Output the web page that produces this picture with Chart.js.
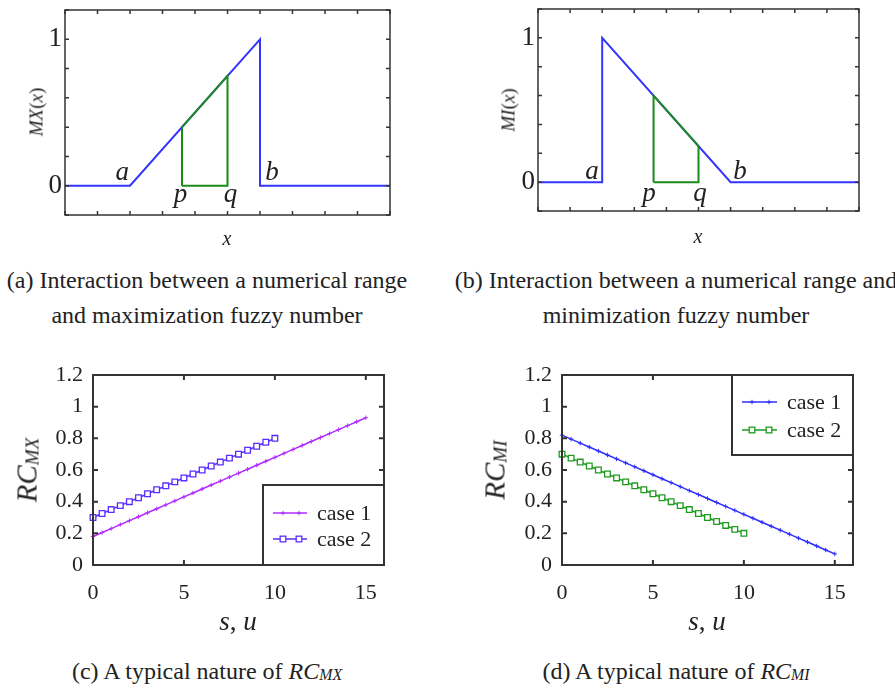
<!DOCTYPE html>
<html><head><meta charset="utf-8">
<script src="https://cdn.jsdelivr.net/npm/chart.js@4.4.0/dist/chart.umd.min.js"></script>
<style>
html,body{margin:0;padding:0;background:#fff}
#page{position:relative;width:895px;height:688px;overflow:hidden;background:#fff;font-family:"Liberation Serif","Times New Roman",serif;color:#222}
canvas{position:absolute}
.t{position:absolute;white-space:nowrap;line-height:1}
.cap{position:absolute;white-space:nowrap;text-align:center;width:520px;font-size:24px;line-height:35px}
.rot{transform:translate(-50%,-50%) rotate(-90deg)}
.ctr{transform:translate(-50%,-50%)}
.sub{font-size:0.66em;vertical-align:-0.08em}
</style></head>
<body>
<div id="page">
  <canvas id="cA" width="447" height="250" style="left:0;top:0"></canvas>
  <canvas id="cB" width="448" height="250" style="left:447px;top:0"></canvas>
  <canvas id="cC" width="447" height="300" style="left:0;top:340px"></canvas>
  <canvas id="cD" width="448" height="300" style="left:447px;top:340px"></canvas>

  <div class="t rot" style="left:36px;top:112px;font-size:19px"><i>MX</i>(<i>x</i>)</div>
  <div class="t ctr" style="left:227px;top:238px;font-size:20px"><i>x</i></div>
  <div class="t rot" style="left:508px;top:110px;font-size:19px"><i>MI</i>(<i>x</i>)</div>
  <div class="t ctr" style="left:698px;top:236px;font-size:20px"><i>x</i></div>

  <div class="t rot" style="left:27px;top:470px;font-size:29px"><i>RC<span class="sub">MX</span></i></div>
  <div class="t ctr" style="left:238px;top:621px;font-size:27px"><i>s</i>, <i>u</i></div>
  <div class="t rot" style="left:495px;top:470px;font-size:29px"><i>RC<span class="sub">MI</span></i></div>
  <div class="t ctr" style="left:707px;top:621px;font-size:27px"><i>s</i>, <i>u</i></div>

  <div class="cap" style="left:-53px;top:263px">(a) Interaction between a numerical range<br>and maximization fuzzy number</div>
  <div class="cap" style="left:416px;top:263px">(b) Interaction between a numerical range and<br>minimization fuzzy number</div>
  <div class="cap" style="left:-53px;top:654px">(c) A typical nature of <i>RC<span class="sub">MX</span></i></div>
  <div class="cap" style="left:416px;top:654px">(d) A typical nature of <i>RC<span class="sub">MI</span></i></div>
</div>
<script>
// ---------------- data ----------------
// (a) maximization fuzzy number MX(x)
const mxX = [0, 2, 6, 6, 10];
const mxY = [0, 0, 1, 0, 0];
const mxRangeX = [3.6, 3.6, 5, 5, 3.6];
const mxRangeY = [0, 0.4, 0.75, 0, 0];
// (b) minimization fuzzy number MI(x)
const miX = [0, 2, 2, 6, 10];
const miY = [0, 0, 1, 0, 0];
const miRangeX = [3.6, 3.6, 5, 5, 3.6];
const miRangeY = [0, 0.6, 0.25, 0, 0];
// point names and where they sit (data units)
const markNames = ['a', 'b', 'p', 'q'];
const mxMarkX = [1.76, 6.37, 3.55, 5.09];
const mxMarkY = [0.04, 0.04, -0.11, -0.11];
const miMarkX = [1.68, 6.29, 3.46, 5.05];
const miMarkY = [0.02, 0.02, -0.13, -0.13];
// fuzzy y tick labels
const fuzzyTickValues = [0, 1];
const fuzzyTickLabels = ['0', '1'];
// (c),(d) s,u values
const su15 = [0,0.5,1,1.5,2,2.5,3,3.5,4,4.5,5,5.5,6,6.5,7,7.5,8,8.5,9,9.5,10,10.5,11,11.5,12,12.5,13,13.5,14,14.5,15];
const su10 = [0,0.5,1,1.5,2,2.5,3,3.5,4,4.5,5,5.5,6,6.5,7,7.5,8,8.5,9,9.5,10];
const rcmxCase1 = [0.18,0.205,0.23,0.255,0.28,0.305,0.33,0.355,0.38,0.405,0.43,0.455,0.48,0.505,0.53,0.555,0.58,0.605,0.63,0.655,0.68,0.705,0.73,0.755,0.78,0.805,0.83,0.855,0.88,0.905,0.93];
const rcmxCase2 = [0.3,0.325,0.35,0.375,0.4,0.425,0.45,0.475,0.5,0.525,0.55,0.575,0.6,0.625,0.65,0.675,0.7,0.725,0.75,0.775,0.8];
const rcmiCase1 = [0.82,0.795,0.77,0.745,0.72,0.695,0.67,0.645,0.62,0.595,0.57,0.545,0.52,0.495,0.47,0.445,0.42,0.395,0.37,0.345,0.32,0.295,0.27,0.245,0.22,0.195,0.17,0.145,0.12,0.095,0.07];
const rcmiCase2 = [0.7,0.675,0.65,0.625,0.6,0.575,0.55,0.525,0.5,0.475,0.45,0.425,0.4,0.375,0.35,0.325,0.3,0.275,0.25,0.225,0.2];
const caseLabels = ['case 1', 'case 2'];

// ---------------- helpers ----------------
const FONT = '"Liberation Serif","Times New Roman",serif';
const TXT = '#222';
const pts = (xs, ys) => xs.map((x, i) => ({x: x, y: ys[i]}));
const near = (a, b) => Math.abs(a - b) < 1e-9;

const framePlugin = {
  id: 'frame',
  afterDatasetsDraw(chart, args, o) {
    const ctx = chart.ctx, a = chart.chartArea, xs = chart.scales.x, ys = chart.scales.y;
    ctx.save();
    ctx.strokeStyle = o.color; ctx.lineWidth = o.width; ctx.lineCap = 'butt';
    ctx.beginPath();
    xs.ticks.forEach(t => {
      const p = xs.getPixelForValue(t.value);
      ctx.moveTo(p, a.bottom); ctx.lineTo(p, a.bottom - o.tick);
      ctx.moveTo(p, a.top); ctx.lineTo(p, a.top + o.tick);
    });
    ys.ticks.forEach(t => {
      const p = ys.getPixelForValue(t.value);
      ctx.moveTo(a.left, p); ctx.lineTo(a.left + o.tick, p);
      ctx.moveTo(a.right, p); ctx.lineTo(a.right - o.tick, p);
    });
    ctx.stroke();
    ctx.strokeRect(a.left, a.top, a.right - a.left, a.bottom - a.top);
    // legend box
    if (o.legend) {
      const L = o.legend;
      const bx = a.right - L.w;
      const by = L.corner === 'br' ? a.bottom - L.h : a.top;
      ctx.fillStyle = '#fff';
      ctx.fillRect(bx, by, L.w, L.h);
      ctx.strokeRect(bx, by, L.w, L.h);
      chart.data.datasets.forEach((ds, i) => {
        const yy = by + L.rows[i];
        ctx.strokeStyle = ds.borderColor; ctx.lineWidth = ds.borderWidth;
        ctx.beginPath(); ctx.moveTo(bx + L.x0, yy); ctx.lineTo(bx + L.x1, yy); ctx.stroke();
        L.marks.forEach(mx => drawMark(ctx, ds, bx + mx, yy));
        ctx.fillStyle = TXT;
        ctx.font = L.font + 'px ' + FONT;
        ctx.textBaseline = 'middle'; ctx.textAlign = 'left';
        ctx.fillText(ds.label, bx + L.tx, yy + 1);
      });
    }
    ctx.restore();
  }
};
function drawMark(ctx, ds, x, y) {
  const r = ds.pointRadius;
  ctx.save();
  ctx.strokeStyle = ds.borderColor; ctx.lineWidth = ds.pointBorderWidth || 1;
  if (ds.pointStyle === 'rect') {
    const s = r * Math.SQRT1_2;
    ctx.fillStyle = ds.pointBackgroundColor || '#fff';
    ctx.fillRect(x - s, y - s, 2 * s, 2 * s);
    ctx.strokeRect(x - s, y - s, 2 * s, 2 * s);
  } else {
    ctx.beginPath();
    ctx.moveTo(x - r, y); ctx.lineTo(x + r, y);
    ctx.moveTo(x, y - r); ctx.lineTo(x, y + r);
    ctx.stroke();
  }
  ctx.restore();
}

const markPlugin = {
  id: 'marks',
  afterDatasetsDraw(chart, args, o) {
    if (!o.names) return;
    const ctx = chart.ctx, xs = chart.scales.x, ys = chart.scales.y;
    ctx.save();
    ctx.fillStyle = TXT;
    ctx.font = 'italic ' + o.size + 'px ' + FONT;
    ctx.textAlign = 'center'; ctx.textBaseline = 'alphabetic';
    o.names.forEach((n, i) => ctx.fillText(n, xs.getPixelForValue(o.xs[i]), ys.getPixelForValue(o.ys[i])));
    ctx.restore();
  }
};

function makeChart(id, datasets, s) {
  return new Chart(document.getElementById(id), {
    type: 'scatter',
    data: {datasets: datasets},
    options: {
      responsive: false, animation: false, devicePixelRatio: 1,
      layout: {padding: {top: s.pt, right: s.pr, left: 0, bottom: 0}},
      plugins: {
        legend: {display: false}, tooltip: {enabled: false},
        frame: {color: '#333', width: s.fw, tick: s.tick, legend: s.legend},
        marks: s.marks || {}
      },
      scales: {
        x: {
          type: 'linear', min: s.xmin, max: s.xmax,
          grid: {display: false, drawTicks: false}, border: {display: false},
          ticks: {stepSize: s.xstep, includeBounds: false, autoSkip: false, maxRotation: 0,
                  padding: s.xpad, color: TXT, font: {family: FONT, size: s.fs},
                  callback: s.xcb || (v => String(v))},
          afterFit: sc => { sc.height = s.xh; sc.paddingLeft = 0; sc.paddingRight = 0; }
        },
        y: {
          type: 'linear', min: s.ymin, max: s.ymax,
          grid: {display: false, drawTicks: false}, border: {display: false},
          ticks: {stepSize: 0.2, includeBounds: false, autoSkip: false,
                  padding: s.ypad, color: TXT, font: {family: FONT, size: s.fs},
                  callback: s.ycb},
          afterFit: sc => { sc.width = s.yw; sc.paddingTop = 0; sc.paddingBottom = 0; }
        }
      }
    },
    plugins: [framePlugin, markPlugin]
  });
}

const fuzzyYcb = v => { const k = fuzzyTickValues.findIndex(t => near(t, v)); return k >= 0 ? fuzzyTickLabels[k] : ''; };
const rcYcb = v => near(v, 0) ? '0' : near(v, 1) ? '1' : (Math.round(v * 10) / 10).toFixed(1);

// (a)
makeChart('cA', [
  {label: 'range', data: pts(mxRangeX, mxRangeY), showLine: true, borderColor: '#1b8a1b', borderWidth: 2, pointRadius: 0, order: 0},
  {label: 'MX', data: pts(mxX, mxY), showLine: true, borderColor: '#3434ff', borderWidth: 2, pointRadius: 0, order: 1}
], {pt: 10, pr: 57, xh: 35, yw: 65, xmin: 0, xmax: 10, xstep: 1, ymin: -0.2, ymax: 1.2, fs: 27,
    xpad: 4, ypad: 3, xcb: () => '', ycb: fuzzyYcb, fw: 1.5, tick: 4,
    marks: {names: markNames, xs: mxMarkX, ys: mxMarkY, size: 27}});

// (b)
makeChart('cB', [
  {label: 'range', data: pts(miRangeX, miRangeY), showLine: true, borderColor: '#1b8a1b', borderWidth: 2, pointRadius: 0, order: 0},
  {label: 'MI', data: pts(miX, miY), showLine: true, borderColor: '#3434ff', borderWidth: 2, pointRadius: 0, order: 1}
], {pt: 9, pr: 36, xh: 39, yw: 91, xmin: 0, xmax: 10, xstep: 1, ymin: -0.2, ymax: 1.2, fs: 27,
    xpad: 4, ypad: 3, xcb: () => '', ycb: fuzzyYcb, fw: 1.5, tick: 4,
    marks: {names: markNames, xs: miMarkX, ys: miMarkY, size: 27}});

// (c)
makeChart('cC', [
  {label: caseLabels[0], data: pts(su15, rcmxCase1), showLine: true, borderColor: '#b02cff', borderWidth: 1.5,
   pointStyle: 'cross', pointRadius: 2.2, pointBorderWidth: 1, clip: false},
  {label: caseLabels[1], data: pts(su10, rcmxCase2), showLine: true, borderColor: '#5a2cff', borderWidth: 1.5,
   pointStyle: 'rect', pointRadius: 4, pointBorderWidth: 1.3, pointBackgroundColor: '#fff', backgroundColor: '#fff', clip: false}
], {pt: 35, pr: 63, xh: 75, yw: 93, xmin: 0, xmax: 16, xstep: 5, ymin: 0, ymax: 1.2, fs: 22,
    xpad: 15, ypad: 10, ycb: rcYcb, fw: 2, tick: 5,
    legend: {corner: 'br', w: 121, h: 80, rows: [28, 54], x0: 10, x1: 44, marks: [20, 36], tx: 54, font: 22}});

// (d)
makeChart('cD', [
  {label: caseLabels[0], data: pts(su15, rcmiCase1), showLine: true, borderColor: '#2e2eff', borderWidth: 1.5,
   pointStyle: 'cross', pointRadius: 2.2, pointBorderWidth: 1, clip: false},
  {label: caseLabels[1], data: pts(su10, rcmiCase2), showLine: true, borderColor: '#1f9a1f', borderWidth: 1.5,
   pointStyle: 'rect', pointRadius: 4, pointBorderWidth: 1.3, pointBackgroundColor: '#fff', backgroundColor: '#fff', clip: false}
], {pt: 35, pr: 42, xh: 75, yw: 115, xmin: 0, xmax: 16, xstep: 5, ymin: 0, ymax: 1.2, fs: 22,
    xpad: 15, ypad: 10, ycb: rcYcb, fw: 2, tick: 5,
    legend: {corner: 'tr', w: 121, h: 80, rows: [27, 55], x0: 10, x1: 45, marks: [20, 37], tx: 55, font: 22}});
</script>
</body></html>
